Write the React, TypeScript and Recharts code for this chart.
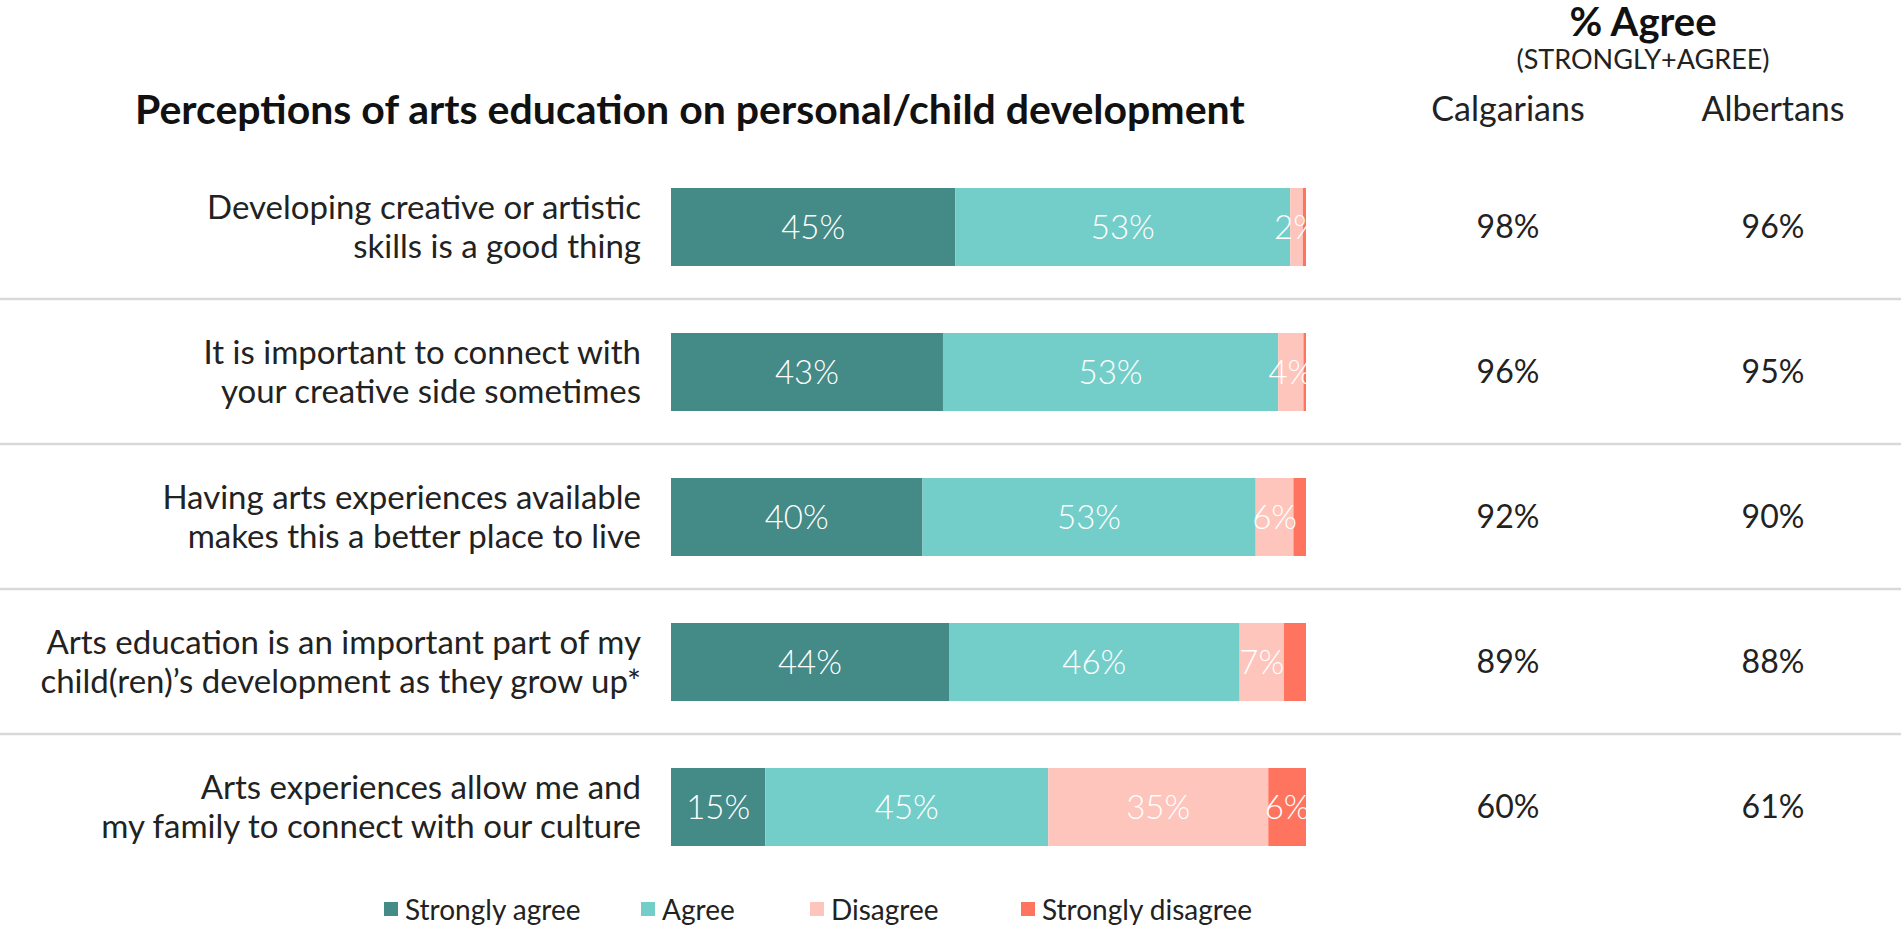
import React from 'react';
import { BarChart, Bar, XAxis, YAxis, LabelList, Legend } from 'recharts';

const statements = [
  'Developing creative or artistic|skills is a good thing',
  'It is important to connect with|your creative side sometimes',
  'Having arts experiences available|makes this a better place to live',
  'Arts education is an important part of my|child(ren)\u2019s development as they grow up*',
  'Arts experiences allow me and|my family to connect with our culture',
];
const stronglyAgree = [45, 43, 40, 44, 15];
const agree = [53, 53, 53, 46, 45];
const disagree = [2, 4, 6, 7, 35];
const stronglyDisagree = [0.5, 0.4, 2, 3.5, 6];
const calgarians = [98, 96, 92, 89, 60];
const albertans = [96, 95, 90, 88, 61];

const seriesNames = ['Strongly agree', 'Agree', 'Disagree', 'Strongly disagree'];
const seriesKeys = ['sa', 'a', 'd', 'sd'];
const seriesColors = ['#448A86', '#73CECA', '#FEC5BC', '#FF745F'];

const data = statements.map((s, i) => ({
  name: s,
  sa: stronglyAgree[i],
  a: agree[i],
  d: disagree[i],
  sd: stronglyDisagree[i],
  cal: calgarians[i],
  alb: albertans[i],
}));

const FONT = "Lato, 'Open Sans', sans-serif";
const W = 1901;
const H = 925;
const M_TOP = 154;
const PLOT_BOTTOM_GAP = 46;
const LEGEND_H = 30;
const M_LEFT = 0;
const M_RIGHT = 595;
const Y_AXIS_W = 671;
const BAND = (H - M_TOP - PLOT_BOTTOM_GAP) / data.length;
const COL_CAL_X = 1508;
const COL_ALB_X = 1773;
const TEXT = '#222222';
const LEGEND_ITEM_W = [257, 169, 211, 260];

const CategoryTick = (props: any) => {
  const { x, y, payload } = props;
  const idx = data.findIndex((d) => d.name === payload.value);
  const row = data[idx];
  const [l1, l2] = String(payload.value).split('|');
  return (
    <g>
      <text x={x} y={y - 8} textAnchor="end" fontSize={33} fill={TEXT} fontFamily={FONT}>
        {l1}
      </text>
      <text x={x} y={y + 31} textAnchor="end" fontSize={33} fill={TEXT} fontFamily={FONT}>
        {l2}
      </text>
      <text x={COL_CAL_X} y={y + 11} textAnchor="middle" fontSize={32} fill={TEXT} fontFamily={FONT}>
        {row ? `${row.cal}%` : ''}
      </text>
      <text x={COL_ALB_X} y={y + 11} textAnchor="middle" fontSize={32} fill={TEXT} fontFamily={FONT}>
        {row ? `${row.alb}%` : ''}
      </text>
      {idx < data.length - 1 && (
        <line x1={0} x2={W} y1={y + BAND / 2} y2={y + BAND / 2} stroke="#D9D9D9" strokeWidth={2.5} />
      )}
    </g>
  );
};

const LegendContent = () => (
  <div
    style={{
      display: 'flex',
      alignItems: 'center',
      paddingLeft: 384,
      fontFamily: FONT,
      fontSize: 28,
      color: TEXT,
      lineHeight: '30px',
    }}
  >
    {seriesNames.map((n, i) => (
      <div
        key={n}
        style={{ display: 'flex', alignItems: 'center', width: LEGEND_ITEM_W[i], flex: 'none', whiteSpace: 'nowrap' }}
      >
        <div style={{ width: 14, height: 14, background: seriesColors[i], marginRight: 7, flex: 'none' }} />
        <span>{n}</span>
      </div>
    ))}
  </div>
);

const labelFmt = (min: number) => (v: any) => (Number(v) >= min ? `${v}%` : '');

export default function App() {
  return (
    <div style={{ position: 'absolute', left: 0, top: 0, width: W, height: H, background: '#fff', fontFamily: FONT }}>
      <div
        style={{
          position: 'absolute',
          left: 135,
          top: 86,
          fontSize: 41,
          fontWeight: 700,
          color: '#111',
          lineHeight: '46px',
          whiteSpace: 'nowrap',
        }}
      >
        Perceptions of arts education on personal/child development
      </div>
      <div
        style={{
          position: 'absolute',
          left: 1443,
          width: 400,
          top: 0,
          textAlign: 'center',
          fontSize: 40,
          fontWeight: 700,
          color: '#111',
          lineHeight: '42px',
        }}
      >
        % Agree
      </div>
      <div
        style={{
          position: 'absolute',
          left: 1443,
          width: 400,
          top: 46,
          textAlign: 'center',
          fontSize: 27,
          color: TEXT,
          lineHeight: '26px',
        }}
      >
        (STRONGLY+AGREE)
      </div>
      <div
        style={{
          position: 'absolute',
          left: COL_CAL_X - 150,
          width: 300,
          top: 88,
          textAlign: 'center',
          fontSize: 34,
          color: TEXT,
          lineHeight: '40px',
        }}
      >
        Calgarians
      </div>
      <div
        style={{
          position: 'absolute',
          left: COL_ALB_X - 150,
          width: 300,
          top: 88,
          textAlign: 'center',
          fontSize: 34,
          color: TEXT,
          lineHeight: '40px',
        }}
      >
        Albertans
      </div>
      <BarChart
        width={W}
        height={H}
        data={data}
        layout="vertical"
        stackOffset="expand"
        margin={{ top: M_TOP, bottom: PLOT_BOTTOM_GAP - LEGEND_H, left: M_LEFT, right: M_RIGHT }}
        style={{ position: 'absolute', left: 0, top: 0 }}
      >
        <XAxis type="number" hide domain={[0, 1]} />
        <YAxis
          type="category"
          dataKey="name"
          width={Y_AXIS_W}
          axisLine={false}
          tickLine={false}
          tickSize={0}
          tickMargin={30}
          interval={0}
          tick={<CategoryTick />}
        />
        <Legend
          layout="vertical"
          verticalAlign="bottom"
          align="center"
          content={<LegendContent />}
          wrapperStyle={{ position: 'absolute', left: 0, top: 894, width: W, height: LEGEND_H }}
        />
        {seriesKeys.map((k, i) => (
          <Bar
            key={k}
            dataKey={k}
            name={seriesNames[i]}
            stackId="s"
            fill={seriesColors[i]}
            barSize={78}
            isAnimationActive={false}
          >
            <LabelList
              dataKey={k}
              position="center"
              fill="#FFFFFF"
              fontSize={33}
              fontWeight={300}
              fontFamily={FONT}
              formatter={labelFmt(k === 'sd' ? 5 : 0)}
            />
          </Bar>
        ))}
      </BarChart>
    </div>
  );
}
